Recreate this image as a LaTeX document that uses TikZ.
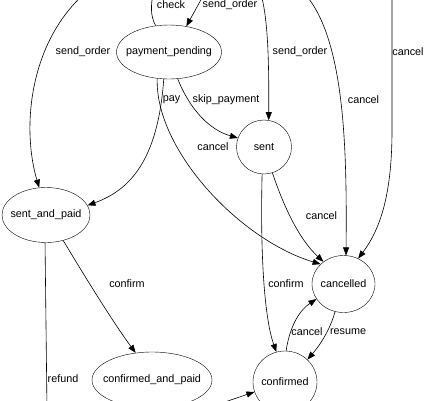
\documentclass[tikz,border=0pt]{standalone}
\usepackage{fontspec}
\setmainfont{Liberation Sans}
\usetikzlibrary{arrows.meta,shapes.geometric}
\newcommand{\zbox}[1]{\makebox[0pt]{#1}}
\begin{document}
\begin{tikzpicture}[x=1pt,y=-1pt,
  state/.style={ellipse,draw,inner sep=0pt,font=\fontsize{10.8}{13}\selectfont},
  lbl/.style={inner sep=0pt,font=\fontsize{10.8}{13}\selectfont},
  edge/.style={draw,line width=0.6pt,-{Triangle[length=8pt,width=6pt]}},
  plain/.style={draw,line width=0.6pt}]
\useasboundingbox (0,0) rectangle (427,400);
\clip (0,0) rectangle (427,400);
\fill[white] (0,0) rectangle (427,400);
% states
\node[state,minimum width=105pt,minimum height=54pt] (pp) at (169,52) {\zbox{payment\_pending}};
\node[state,minimum width=55pt,minimum height=54pt] (sent) at (264,147) {\zbox{sent}};
\node[state,minimum width=88pt,minimum height=55pt] (sap) at (46,215) {\zbox{sent\_and\_paid}};
\node[state,minimum width=63pt,minimum height=57pt] (canc) at (343.5,284) {\zbox{cancelled}};
\node[state,minimum width=64pt,minimum height=62pt] (conf) at (285,382) {\zbox{confirmed}};
\node[state,minimum width=120pt,minimum height=56pt] (cap) at (152,380) {\zbox{confirmed\_and\_paid}};
% off-frame ends
\coordinate (s1) at (84,-6);
\coordinate (s2) at (153,-6);
\coordinate (s3) at (203,-4);
\coordinate (s4) at (261,-6);
\coordinate (s5) at (305,-6);
\coordinate (s6) at (392,-6);
\coordinate (e15) at (47,410);
\coordinate (s16) at (210,407);
% edges
\path[edge] (s1) .. controls (28,45) and (22,130) .. (sap.104);
\path[plain] (pp.117) .. controls (150,15) and (151,5) .. (s2);
\path[edge] (s3) -- (pp.56);
\path[edge] (s4) .. controls (268,20) and (269,60) .. (sent.80);
\path[edge] (s5) .. controls (345,40) and (347,150) .. (canc.85);
\path[edge] (s6) -- (392,130) .. controls (392,200) and (378,232) .. (canc.60);
\path[edge] (pp.259) .. controls (158,160) and (130,190) .. (sap.13);
\path[edge] (pp.246) .. controls (155,150) and (240,240) .. (canc.139);
\path[edge] (pp.288) .. controls (190,110) and (210,130) .. (sent.161);
\path[edge] (sent.288) .. controls (285,210) and (300,240) .. (canc.132);
\path[edge] (sent.266) .. controls (260,260) and (265,320) .. (conf.106);
\path[edge] (conf.88) .. controls (290,325) and (300,310) .. (canc.209);
\path[edge] (canc.253) .. controls (330,330) and (320,345) .. (conf.45);
\path[edge] (sap.304) .. controls (90,285) and (115,325) .. (cap.121);
\path[plain] (sap.268) -- (e15);
\path[edge] (s16) -- (conf.198);
% labels
\node[lbl] (l1) at (83,52) {send\_order};
\node[lbl] (l2) at (171,5) {check};
\node[lbl] (l3) at (230,5) {send\_order};
\node[lbl] (l4) at (300,52) {send\_order};
\node[lbl] (l5) at (363.5,100) {cancel};
\node[lbl] (l6) at (408,52) {cancel};
\node[lbl] (l7) at (171.5,100) {pay};
\node[lbl] (l8) at (213,147) {cancel};
\node[lbl] (l9) at (226,100) {skip\_payment};
\node[lbl] (l10) at (321.5,216) {cancel};
\node[lbl] (l11) at (286,284) {confirm};
\node[lbl] (l12) at (307,332) {cancel};
\node[lbl] (l13) at (348,332) {resume};
\node[lbl] (l14) at (127,284) {confirm};
\node[lbl] (l15) at (63,379) {refund};
\end{tikzpicture}
\end{document}
